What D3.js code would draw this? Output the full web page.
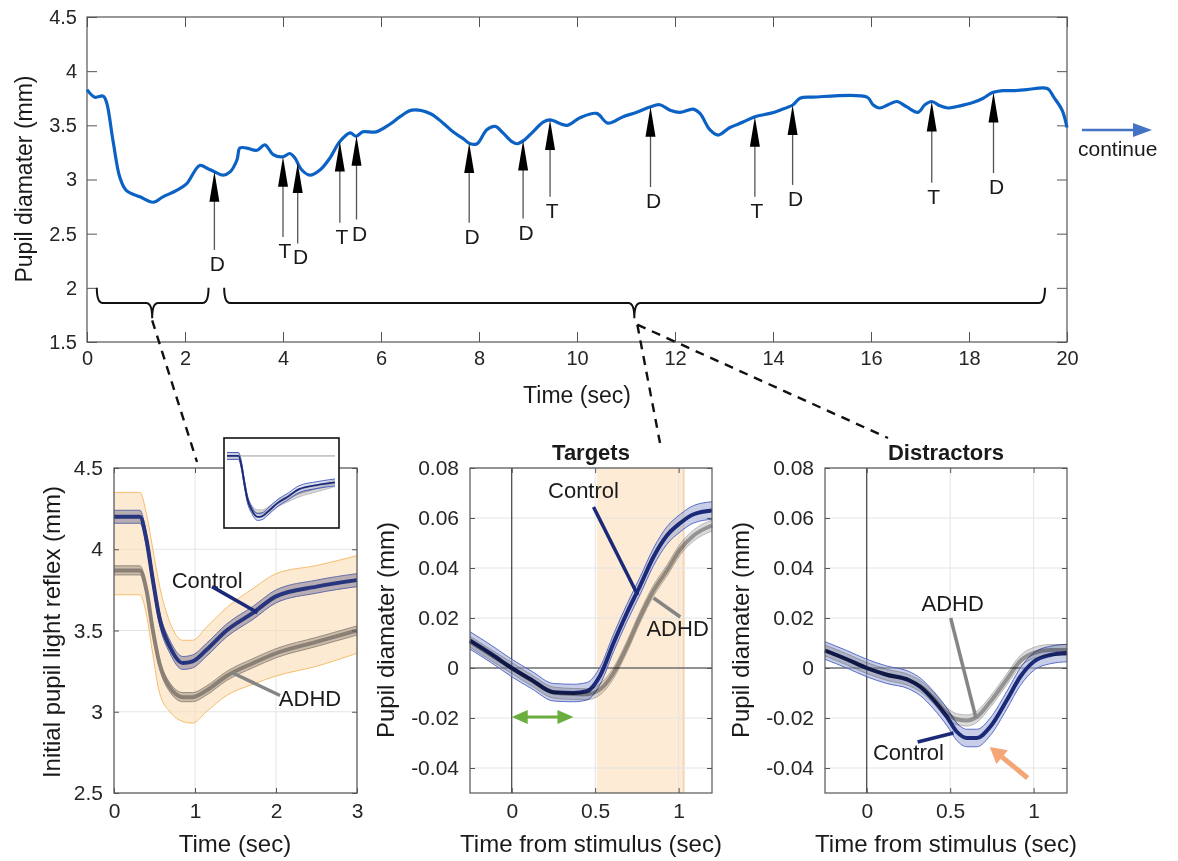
<!DOCTYPE html>
<meta charset="utf-8">
<script src="https://d3js.org/d3.v7.min.js"></script>
<style>
  body { margin: 0; background: #fff; }
  svg text { font-family: "Liberation Sans", Arial, Helvetica, sans-serif; }
</style>
<div id="my_dataviz"></div>
<script>

  // ---- top trace: pupil diameter of one subject over the first 20 s ----
  var traceTime = [0, 0.16, 0.33, 0.4, 0.53, 0.67, 0.8, 1.08, 1.35, 1.55,
                   1.83, 2.03, 2.3, 2.47, 2.61, 2.78, 2.92, 3.06, 3.12, 3.26,
                   3.47, 3.63, 3.8, 4.0, 4.14, 4.24, 4.38, 4.55, 4.76, 4.96,
                   5.16, 5.37, 5.49, 5.63, 5.9, 6.18, 6.39, 6.63, 7.0, 7.27,
                   7.47, 7.67, 7.82, 7.96, 8.16, 8.33, 8.49, 8.67, 8.78, 8.94,
                   9.1, 9.31, 9.45, 9.8, 10.06, 10.4, 10.63, 10.94, 11.22, 11.49,
                   11.69, 11.9, 12.1, 12.37, 12.51, 12.71, 12.88, 13.12, 13.39, 13.63,
                   13.94, 14.14, 14.41, 14.55, 14.82, 15.92, 16.04, 16.18, 16.35, 16.53,
                   16.73, 16.96, 17.1, 17.24, 17.41, 17.57, 17.82, 18.08, 18.29, 18.47,
                   18.69, 18.9, 19.18, 19.6, 19.73, 19.9, 20.0];
  var traceDiam = [3.83, 3.76, 3.77, 3.71, 3.36, 3.02, 2.90, 2.84, 2.79, 2.84,
                   2.90, 2.96, 3.13, 3.10, 3.07, 3.04, 3.07, 3.18, 3.29, 3.29,
                   3.27, 3.32, 3.23, 3.21, 3.24, 3.20, 3.09, 3.04, 3.09, 3.20,
                   3.35, 3.43, 3.40, 3.44, 3.44, 3.51, 3.58, 3.64, 3.61, 3.52,
                   3.44, 3.38, 3.33, 3.33, 3.46, 3.49, 3.43, 3.35, 3.33, 3.37,
                   3.44, 3.53, 3.55, 3.50, 3.57, 3.61, 3.52, 3.58, 3.62, 3.67,
                   3.69, 3.64, 3.62, 3.65, 3.61, 3.46, 3.41, 3.48, 3.53, 3.58,
                   3.61, 3.64, 3.69, 3.75, 3.76, 3.76, 3.69, 3.66, 3.69, 3.72,
                   3.67, 3.62, 3.69, 3.72, 3.68, 3.66, 3.68, 3.71, 3.75, 3.80,
                   3.82, 3.82, 3.83, 3.84, 3.76, 3.64, 3.48];
  var topXTicks = [0, 2, 4, 6, 8, 10, 12, 14, 16, 18, 20];
  var topYTicks = [1.5, 2, 2.5, 3, 3.5, 4, 4.5];

  // stimulus events (T = target, D = distractor) and where each arrow tail ends
  var eventTime = [2.6, 4.0, 4.3, 5.16, 5.5, 7.8, 8.9, 9.45, 11.5, 13.63, 14.4, 17.24, 18.5];
  var eventType = ["D", "T", "D", "T", "D", "D", "D", "T", "D", "T", "D", "T", "D"];
  var eventTail = [2.35, 2.47, 2.41, 2.60, 2.63, 2.60, 2.64, 2.84, 2.93, 2.84, 2.95, 2.97, 3.06];

  // braces under the trace (start, end, middle, in seconds)
  var braceStart = [0.2, 2.8];
  var braceEnd = [2.48, 19.55];
  var braceMid = [1.33, 11.17];

  // ---- initial pupil light reflex ----
  var reflexTime = [0, 0.32, 0.40, 0.48, 0.56, 0.69, 0.85, 0.97, 1.14, 1.39, 1.72, 2.0, 2.5, 3.0];
  var reflexControl = [4.20, 4.20, 4.06, 3.81, 3.58, 3.40, 3.30, 3.31, 3.38, 3.50, 3.61, 3.71, 3.77, 3.81];
  var reflexAdhd = [3.87, 3.87, 3.75, 3.50, 3.30, 3.15, 3.09, 3.09, 3.13, 3.22, 3.30, 3.36, 3.43, 3.50];
  var reflexUpper = [4.35, 4.35, 4.22, 4.00, 3.78, 3.55, 3.44, 3.44, 3.52, 3.64, 3.76, 3.85, 3.90, 3.96];
  var reflexLower = [3.72, 3.72, 3.60, 3.35, 3.12, 3.00, 2.94, 2.93, 3.00, 3.10, 3.17, 3.22, 3.28, 3.36];
  var reflexSeControl = 0.04, reflexSeAdhd = 0.028;
  var reflexXTicks = [0, 1, 2, 3];
  var reflexYTicks = [2.5, 3, 3.5, 4, 4.5];

  // ---- targets ----
  var targetTime = [-0.25, -0.12, 0, 0.12, 0.25, 0.37, 0.45, 0.53, 0.61, 0.69, 0.77, 0.85, 0.93, 1.01, 1.09, 1.2];
  var targetControl = [0.011, 0.0055, 0, -0.0048, -0.0097, -0.0100, -0.0093, -0.003, 0.010, 0.022, 0.033, 0.0445, 0.053, 0.058, 0.0615, 0.063];
  var targetAdhd = [0.0105, 0.005, 0, -0.005, -0.0098, -0.0104, -0.0105, -0.0085, -0.002, 0.0085, 0.0205, 0.031, 0.039, 0.0475, 0.053, 0.057];
  var targetWindow = [0.51, 1.03];

  // ---- distractors ----
  var distTime = [-0.25, -0.12, 0, 0.12, 0.25, 0.32, 0.40, 0.48, 0.54, 0.60, 0.66, 0.74, 0.84, 0.92, 1.0, 1.1, 1.2];
  var distControl = [0.007, 0.0035, 0, -0.0027, -0.0048, -0.0075, -0.0128, -0.0195, -0.0255, -0.028, -0.028, -0.0235, -0.0128, -0.0035, 0.0025, 0.0052, 0.006];
  var distAdhd = [0.007, 0.0035, 0, -0.0027, -0.0048, -0.0072, -0.012, -0.018, -0.0205, -0.021, -0.0195, -0.0135, -0.0045, 0.0028, 0.006, 0.0072, 0.0072];
  var stimSeControl = 0.0035, stimSeAdhd = 0.0022;
  var stimXTicks = [0, 0.5, 1];
  var stimYTicks = [-0.04, -0.02, 0, 0.02, 0.04, 0.06, 0.08];

  var font = "'Liberation Sans', Arial, Helvetica, sans-serif";
  var navy = "#1b2a78", grey = "#858585";

  var svg = d3.select("#my_dataviz")
    .append("svg")
      .attr("width", 1178)
      .attr("height", 861);

  // grid, inward ticks on all four sides, and the box
  function drawGrid(g, x, y, xt, yt) {
    var xr = x.range(), yr = y.range();
    g.append("g").selectAll("line").data(xt).join("line")
      .attr("x1", d => x(d)).attr("x2", d => x(d)).attr("y1", yr[0]).attr("y2", yr[1])
      .attr("stroke", "#e4e4e4");
    g.append("g").selectAll("line").data(yt).join("line")
      .attr("x1", xr[0]).attr("x2", xr[1]).attr("y1", d => y(d)).attr("y2", d => y(d))
      .attr("stroke", "#e4e4e4");
  }
  function drawAxes(g, x, y, o) {
    var xr = x.range(), yr = y.range();
    var style = function(s) {
      s.select(".domain").remove();
      s.attr("font-family", font).attr("font-size", o.fs).attr("color", "#555");
      s.selectAll("text").attr("fill", "#262626");
    };
    g.append("g").attr("transform", "translate(0," + yr[0] + ")")
      .call(d3.axisBottom(x).tickValues(o.xt).tickFormat(d => d).tickSizeInner(-o.tick).tickSizeOuter(0).tickPadding(o.padX))
      .call(style);
    g.append("g").attr("transform", "translate(0," + yr[1] + ")")
      .call(d3.axisTop(x).tickValues(o.xt).tickFormat("").tickSizeInner(-o.tick).tickSizeOuter(0))
      .call(style);
    g.append("g").attr("transform", "translate(" + xr[0] + ",0)")
      .call(d3.axisLeft(y).tickValues(o.yt).tickFormat(d => d).tickSizeInner(-o.tick).tickSizeOuter(0).tickPadding(o.padY))
      .call(style);
    g.append("g").attr("transform", "translate(" + xr[1] + ",0)")
      .call(d3.axisRight(y).tickValues(o.yt).tickFormat("").tickSizeInner(-o.tick).tickSizeOuter(0))
      .call(style);
    g.append("rect")
      .attr("x", xr[0]).attr("y", yr[1]).attr("width", xr[1] - xr[0]).attr("height", yr[0] - yr[1])
      .attr("fill", "none").attr("stroke", "#555").attr("stroke-width", 1.2);
  }
  function label(g, txt, x, y, size, opt) {
    opt = opt || {};
    var t = g.append("text").text(txt)
      .attr("font-size", size).attr("fill", opt.fill || "#1a1a1a")
      .attr("text-anchor", opt.anchor || "middle")
      .attr("font-weight", opt.bold ? "bold" : null);
    if (opt.rotate) t.attr("transform", "translate(" + x + "," + y + ") rotate(-90)");
    else t.attr("x", x).attr("y", y);
    return t;
  }
  function seqLine(x, y, t, v) {
    return d3.line().x(i => x(t[i])).y(i => y(v[i])).curve(d3.curveMonotoneX)(d3.range(t.length));
  }
  function seqArea(x, y, t, lo, hi) {
    return d3.area().x(i => x(t[i])).y0(i => y(lo(i))).y1(i => y(hi(i))).curve(d3.curveMonotoneX)(d3.range(t.length));
  }
  function band(g, x, y, t, v, se, fill, fillOp, edge) {
    g.append("path").attr("d", seqArea(x, y, t, i => v[i] - se, i => v[i] + se))
      .attr("fill", fill).attr("fill-opacity", fillOp);
    if (edge) {
      [-se, se].forEach(function(s) {
        g.append("path").attr("d", seqLine(x, y, t, v.map(d => d + s)))
          .attr("fill", "none").attr("stroke", edge).attr("stroke-width", 0.9);
      });
    }
  }
  function leader(g, p0, p1, color) {
    g.append("line").attr("x1", p0[0]).attr("y1", p0[1]).attr("x2", p1[0]).attr("y2", p1[1])
      .attr("stroke", color).attr("stroke-width", 3.5);
  }

  // ================= TOP TRACE =================
  var xTop = d3.scaleLinear().domain([0, 20]).range([87, 1067]);
  var yTop = d3.scaleLinear().domain([1.5, 4.5]).range([342, 17]);
  var topG = svg.append("g");
  drawAxes(topG, xTop, yTop, {xt: topXTicks, yt: topYTicks, tick: 10, fs: 20, padX: 9, padY: 10});

  topG.append("path")
    .attr("d", d3.line().x(i => xTop(traceTime[i])).y(i => yTop(traceDiam[i]))
      .curve(d3.curveCatmullRom.alpha(0.5))(d3.range(traceTime.length)))
    .attr("fill", "none").attr("stroke", "#0b62c4").attr("stroke-width", 3.2)
    .attr("stroke-linejoin", "round");

  function traceAt(tt) {
    var i = d3.bisectLeft(traceTime, tt);
    if (i <= 0) return traceDiam[0];
    var f = (tt - traceTime[i - 1]) / (traceTime[i] - traceTime[i - 1]);
    return traceDiam[i - 1] + f * (traceDiam[i] - traceDiam[i - 1]);
  }

  eventTime.forEach(function(t, i) {
    var x = xTop(t), tipY = yTop(traceAt(t)), tailY = yTop(eventTail[i]);
    topG.append("line").attr("x1", x).attr("x2", x).attr("y1", tipY + 25).attr("y2", tailY)
      .attr("stroke", "#555").attr("stroke-width", 1.3);
    topG.append("path")
      .attr("d", "M" + x + "," + tipY + "L" + (x - 5) + "," + (tipY + 30) + "L" + (x + 5) + "," + (tipY + 30) + "Z")
      .attr("fill", "#000");
    label(topG, eventType[i], x + (eventType[i] == "D" ? 3 : 2), tailY + 21, 21);
  });

  // braces
  braceStart.forEach(function(s, i) {
    var xa = xTop(s), xb = xTop(braceEnd[i]), xm = xTop(braceMid[i]);
    var yEnd = yTop(2.0), yBar = yTop(1.86), yTip = yTop(1.72), r = 6;
    var p = d3.path();
    p.moveTo(xa, yEnd);
    p.quadraticCurveTo(xa, yBar, xa + r, yBar);
    p.lineTo(xm - r, yBar);
    p.quadraticCurveTo(xm, yBar, xm, yTip);
    p.moveTo(xm, yTip);
    p.quadraticCurveTo(xm, yBar, xm + r, yBar);
    p.lineTo(xb - r, yBar);
    p.quadraticCurveTo(xb, yBar, xb, yEnd);
    topG.append("path").attr("d", p.toString())
      .attr("fill", "none").attr("stroke", "#111").attr("stroke-width", 2);
  });

  label(topG, "Time (sec)", 577, 403, 23);
  label(topG, "Pupil diamater (mm)", 32, 179, 23, {rotate: true});

  // "continue" arrow
  svg.append("line").attr("x1", 1082).attr("x2", 1136).attr("y1", 130).attr("y2", 130)
    .attr("stroke", "#4472c4").attr("stroke-width", 2.5);
  svg.append("path").attr("d", "M1152,130L1133,123L1133,137Z").attr("fill", "#4472c4");
  label(svg, "continue", 1078, 156, 21, {anchor: "start"});

  // dashed connectors from brace tips to the panels below
  var dash = svg.append("g").attr("stroke", "#111").attr("stroke-width", 2.4)
    .attr("stroke-dasharray", "9,7").attr("fill", "none");
  var tip1 = [xTop(braceMid[0]), yTop(1.70)], tip2 = [xTop(braceMid[1]) + 3, yTop(1.66)];
  dash.append("line").attr("x1", tip1[0]).attr("y1", tip1[1]).attr("x2", 197).attr("y2", 462);
  dash.append("line").attr("x1", tip2[0]).attr("y1", tip2[1]).attr("x2", 660).attr("y2", 443);
  dash.append("line").attr("x1", tip2[0]).attr("y1", tip2[1]).attr("x2", 888).attr("y2", 438);

  // ================= LIGHT REFLEX =================
  var xR = d3.scaleLinear().domain([0, 3]).range([114, 357]);
  var yR = d3.scaleLinear().domain([2.5, 4.5]).range([793, 468]);
  var pr = svg.append("g");
  pr.append("rect").attr("x", 114).attr("y", 468).attr("width", 243).attr("height", 325).attr("fill", "#fff");
  drawGrid(pr, xR, yR, reflexXTicks, reflexYTicks);
  pr.append("path").attr("d", seqArea(xR, yR, reflexTime, i => reflexLower[i], i => reflexUpper[i]))
    .attr("fill", "#fbdcb4").attr("fill-opacity", 0.6);
  [reflexUpper, reflexLower].forEach(function(v) {
    pr.append("path").attr("d", seqLine(xR, yR, reflexTime, v))
      .attr("fill", "none").attr("stroke", "#f6bd6e").attr("stroke-width", 1);
  });
  band(pr, xR, yR, reflexTime, reflexAdhd, reflexSeAdhd, "#8d8378", 0.45, "#8d8378");
  pr.append("path").attr("d", seqLine(xR, yR, reflexTime, reflexAdhd))
    .attr("fill", "none").attr("stroke", "#8a8076").attr("stroke-width", 4);
  band(pr, xR, yR, reflexTime, reflexControl, reflexSeControl, "#716f92", 0.5, "#5562a8");
  pr.append("path").attr("d", seqLine(xR, yR, reflexTime, reflexControl))
    .attr("fill", "none").attr("stroke", "#27347e").attr("stroke-width", 4);
  drawAxes(pr, xR, yR, {xt: reflexXTicks, yt: reflexYTicks, tick: 5, fs: 21, padX: 10, padY: 11});

  label(pr, "Control", xR(1.15), yR(3.81) + 8, 22);
  leader(pr, [xR(1.21), yR(3.77)], [xR(1.77), yR(3.61)], navy);
  leader(pr, [xR(1.46), yR(3.24)], [xR(2.05), yR(3.10)], grey);
  label(pr, "ADHD", xR(2.42), yR(3.085) + 8, 22);
  label(pr, "Time (sec)", 235, 852, 24);
  label(pr, "Initial pupil light reflex (mm)", 60, 632, 24, {rotate: true});

  // inset: both groups normalised to their own baseline
  var xI = d3.scaleLinear().domain([0, 3]).range([227, 335]);
  var yI = d3.scaleLinear().domain([0.747, 1.063]).range([528, 438]);
  var ins = svg.append("g");
  ins.append("rect").attr("x", 224).attr("y", 438).attr("width", 115).attr("height", 90)
    .attr("fill", "#fff").attr("stroke", "#111").attr("stroke-width", 1.6);
  ins.append("line").attr("x1", 229).attr("x2", 335).attr("y1", yI(1)).attr("y2", yI(1))
    .attr("stroke", "#999").attr("stroke-width", 1);
  var nAdhd = reflexAdhd.map(d => d / reflexAdhd[0]);
  var nCtrl = reflexControl.map(d => d / reflexControl[0]);
  band(ins, xI, yI, reflexTime, nAdhd, 0.012, "#cfcfcf", 0.8, "#b5b5b5");
  ins.append("path").attr("d", seqLine(xI, yI, reflexTime, nAdhd))
    .attr("fill", "none").attr("stroke", "#9a9a9a").attr("stroke-width", 1.6);
  band(ins, xI, yI, reflexTime, nCtrl, 0.012, "#c0c6e0", 0.5, "#3f55c0");
  ins.append("path").attr("d", seqLine(xI, yI, reflexTime, nCtrl))
    .attr("fill", "none").attr("stroke", navy).attr("stroke-width", 1.8);

  // ================= TARGETS / DISTRACTORS =================
  function stimPanel(left, title, t, ctrl, adhd, extra) {
    var x = d3.scaleLinear().domain([-0.25, 1.2]).range([left, left + 242]);
    var y = d3.scaleLinear().domain([-0.05, 0.08]).range([793, 468]);
    var g = svg.append("g");
    if (extra.window) {
      g.append("rect").attr("x", x(extra.window[0])).attr("y", 468)
        .attr("width", x(extra.window[1]) - x(extra.window[0])).attr("height", 325)
        .attr("fill", "#fdebd5");
      g.append("line").attr("x1", x(extra.window[1])).attr("x2", x(extra.window[1]))
        .attr("y1", 468).attr("y2", 793).attr("stroke", "#f3d6b3").attr("stroke-width", 2);
    }
    drawGrid(g, x, y, stimXTicks, stimYTicks);
    g.append("line").attr("x1", x(0)).attr("x2", x(0)).attr("y1", 468).attr("y2", 793)
      .attr("stroke", "#333").attr("stroke-width", 1.1);
    g.append("line").attr("x1", x(-0.25)).attr("x2", x(1.2)).attr("y1", y(0)).attr("y2", y(0))
      .attr("stroke", "#333").attr("stroke-width", 1.1);
    band(g, x, y, t, ctrl, stimSeControl, "#9aa5d3", 0.55, "#4a60c4");
    g.append("path").attr("d", seqLine(x, y, t, ctrl))
      .attr("fill", "none").attr("stroke", navy).attr("stroke-width", 4);
    var ga = g.append("g").style("mix-blend-mode", "multiply");
    band(ga, x, y, t, adhd, stimSeAdhd, "#cccccc", 0.7, "#b0b0b0");
    ga.append("path").attr("d", seqLine(x, y, t, adhd))
      .attr("fill", "none").attr("stroke", "#939393").attr("stroke-width", 4);
    drawAxes(g, x, y, {xt: stimXTicks, yt: stimYTicks, tick: 5, fs: 21, padX: 10, padY: 11});
    label(g, title, left + 121, 460, 22, {bold: true});
    label(g, "Time from stimulus (sec)", left + 121, 852, 24);
    label(g, "Pupil diamater (mm)", left - 76, 630, 24, {rotate: true});
    return {g: g, x: x, y: y};
  }

  var pt = stimPanel(470, "Targets", targetTime, targetControl, targetAdhd, {window: targetWindow});
  label(pt.g, "Control", pt.x(0.43), pt.y(0.0712) + 8, 22);
  leader(pt.g, [pt.x(0.49), pt.y(0.0644)], [pt.x(0.755), pt.y(0.0292)], navy);
  leader(pt.g, [pt.x(0.85), pt.y(0.028)], [pt.x(1.01), pt.y(0.0204)], grey);
  label(pt.g, "ADHD", pt.x(0.994), pt.y(0.016) + 8, 22);
  // green double arrow over the early window
  var gy = pt.y(-0.0196), g0 = pt.x(0), g1 = pt.x(0.37);
  pt.g.append("line").attr("x1", g0 + 12).attr("x2", g1 - 12).attr("y1", gy).attr("y2", gy)
    .attr("stroke", "#6aae3f").attr("stroke-width", 3);
  pt.g.append("path").attr("fill", "#6aae3f")
    .attr("d", "M" + g0 + "," + gy + "l16,-7l0,14Z" + "M" + g1 + "," + gy + "l-16,-7l0,14Z");

  var pd = stimPanel(825, "Distractors", distTime, distControl, distAdhd, {});
  label(pd.g, "ADHD", pd.x(0.515), pd.y(0.026) + 8, 22);
  leader(pd.g, [pd.x(0.503), pd.y(0.020)], [pd.x(0.653), pd.y(-0.0196)], grey);
  leader(pd.g, [pd.x(0.305), pd.y(-0.0296)], [pd.x(0.52), pd.y(-0.026)], navy);
  label(pd.g, "Control", pd.x(0.25), pd.y(-0.0336) + 8, 22);
  // orange arrow pointing at the control dip
  var oa = [pd.x(0.964), pd.y(-0.044)], ob = [pd.x(0.737), pd.y(-0.0316)];
  var ang = Math.atan2(ob[1] - oa[1], ob[0] - oa[0]);
  var back = [ob[0] - 16 * Math.cos(ang), ob[1] - 16 * Math.sin(ang)];
  pd.g.append("line").attr("x1", oa[0]).attr("y1", oa[1]).attr("x2", back[0]).attr("y2", back[1])
    .attr("stroke", "#f4a676").attr("stroke-width", 5);
  pd.g.append("path").attr("fill", "#f4a676")
    .attr("d", "M" + ob[0] + "," + ob[1] +
      "L" + (back[0] + 9 * Math.sin(ang)) + "," + (back[1] - 9 * Math.cos(ang)) +
      "L" + (back[0] - 9 * Math.sin(ang)) + "," + (back[1] + 9 * Math.cos(ang)) + "Z");

</script>
